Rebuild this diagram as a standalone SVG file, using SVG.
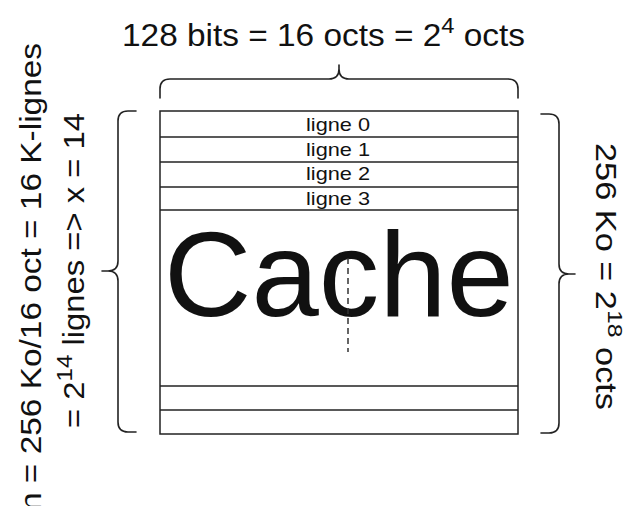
<svg xmlns="http://www.w3.org/2000/svg" width="641" height="506" viewBox="0 0 641 506">
  <style>
    .txt { font-family: "Liberation Sans", Arial, Helvetica, sans-serif; fill: #111; }
    .row { fill: none; stroke: #222; stroke-width: 1.5; }
    .brace { fill: none; stroke: #222; stroke-width: 1.6; stroke-linecap: round; stroke-linejoin: round; }
    .lbl { font-size: 18.5px; text-anchor: middle; }
    .big { font-size: 30px; }
  </style>
  <rect width="641" height="506" fill="#fff"/>

  <!-- cache block with its line rows -->
  <g id="cache">
    <rect class="row" x="160" y="111" width="358" height="323"/>
    <line class="row" x1="160" y1="137" x2="518" y2="137"/>
    <line class="row" x1="160" y1="162" x2="518" y2="162"/>
    <line class="row" x1="160" y1="187" x2="518" y2="187"/>
    <line class="row" x1="160" y1="210" x2="518" y2="210"/>
    <line class="row" x1="160" y1="386" x2="518" y2="386"/>
    <line class="row" x1="160" y1="410" x2="518" y2="410"/>
    <text class="txt lbl" x="338" y="131" textLength="64" lengthAdjust="spacingAndGlyphs">ligne 0</text>
    <text class="txt lbl" x="338" y="155.5" textLength="64" lengthAdjust="spacingAndGlyphs">ligne 1</text>
    <text class="txt lbl" x="338" y="179.5" textLength="64" lengthAdjust="spacingAndGlyphs">ligne 2</text>
    <text class="txt lbl" x="338" y="205" textLength="64" lengthAdjust="spacingAndGlyphs">ligne 3</text>
    <text class="txt" x="339" y="316" font-size="121" text-anchor="middle" fill="#000">Cache</text>
    <line x1="348" y1="258" x2="348" y2="352" stroke="#333" stroke-width="1.5" stroke-dasharray="6 4"/>
  </g>

  <!-- curly braces -->
  <g id="connectors">
    <path id="brace-top" class="brace" d="M160,98 V89 Q160,79 170,79 H329 Q339,79 339,69 V65 M339,69 Q339,79 349,79 H508 Q518,79 518,89 V98"/>
    <path id="brace-left" class="brace" d="M136,111 H128 Q118,111 118,121 V261 Q118,271 108,271 H102 M108,271 Q118,271 118,281 V422 Q118,432 128,432 H136"/>
    <path id="brace-right" class="brace" d="M541,114 H549 Q559,114 559,124 V264 Q559,274 569,274 H575 M569,274 Q559,274 559,284 V423 Q559,433 549,433 H541"/>
  </g>

  <!-- width label -->
  <g id="label-top">
    <text class="txt" x="122" y="46" font-size="31" textLength="403" lengthAdjust="spacingAndGlyphs">128 bits = 16 octs = 2<tspan dy="-13" font-size="22">4</tspan><tspan dy="13"> octs</tspan></text>
  </g>

  <!-- line count label -->
  <g id="label-left">
    <text class="txt big" transform="translate(41,511) rotate(-90)" x="0" y="0" textLength="468" lengthAdjust="spacingAndGlyphs">n = 256 Ko/16 oct = 16 K-lignes</text>
    <text class="txt big" transform="translate(84,428) rotate(-90)" x="0" y="0" textLength="315" lengthAdjust="spacingAndGlyphs">= 2<tspan dy="-12" font-size="22">14</tspan><tspan dy="12"> lignes =&gt; x = 14</tspan></text>
  </g>

  <!-- size label -->
  <g id="label-right">
    <text class="txt" font-size="29" transform="translate(596,143) rotate(90)" x="0" y="0" textLength="267" lengthAdjust="spacingAndGlyphs">256 Ko = 2<tspan dy="-12" font-size="21">18</tspan><tspan dy="12"> octs</tspan></text>
  </g>
</svg>
